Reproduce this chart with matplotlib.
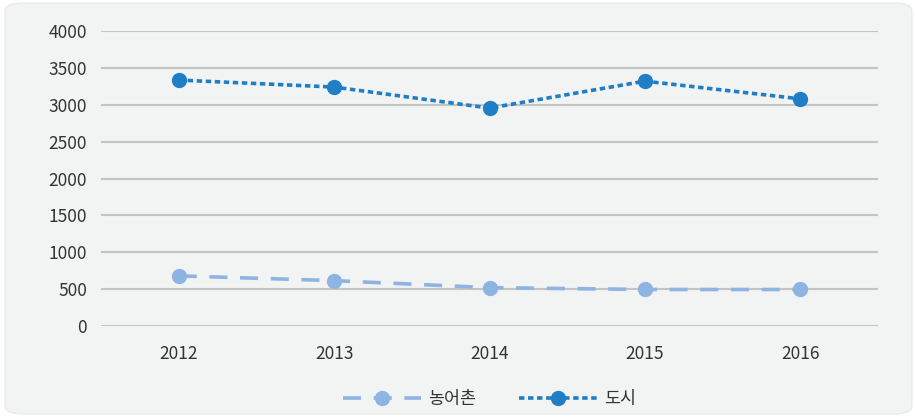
import matplotlib
matplotlib.use("Agg")
import matplotlib.pyplot as plt
from matplotlib.patches import FancyBboxPatch

plt.rcParams['font.family'] = ['Noto Sans CJK KR', 'DejaVu Sans']

years = ['2012', '2013', '2014', '2015', '2016']
rural = [680, 615, 520, 495, 495]
city = [3335, 3240, 2955, 3320, 3080]
yticks = [0, 500, 1000, 1500, 2000, 2500, 3000, 3500, 4000]

fig = plt.figure(figsize=(9.15, 4.17), dpi=100)
fig.patch.set_facecolor('white')
bg = FancyBboxPatch((5/915, 3/417), 907/915, 411/417,
                    boxstyle="round,pad=0,rounding_size=0.02",
                    transform=fig.transFigure, facecolor='#f2f3f3',
                    edgecolor='#e6e8e8', linewidth=0.8, zorder=-10)
fig.patches.append(bg)

ax = fig.add_axes([101/915, 1-326/417, 777/915, 295/417])
ax.set_facecolor('none')
x = list(range(len(years)))
ax.plot(x, rural, color='#8db4e2', linewidth=2.6, dashes=(5, 3.5),
        marker='o', markersize=10, label='농어촌', zorder=3)
ax.plot(x, city, color='#1f7ec5', linewidth=2.6, dashes=(1.5, 1.0),
        marker='o', markersize=10, label='도시', zorder=3)

ax.set_xlim(-0.5, 4.5)
ax.set_ylim(0, 4000)
ax.set_yticks(yticks)
ax.set_yticklabels([str(v) for v in yticks])
ax.set_xticks(x)
ax.set_xticklabels(years)
ax.grid(axis='y', color='#c4c4c4', linewidth=1.5)
ax.set_axisbelow(True)
for s in ax.spines.values():
    s.set_visible(False)
ax.tick_params(length=0, labelsize=12.5, colors='#333333')
ax.tick_params(axis='y', pad=10)
ax.tick_params(axis='x', pad=14)

leg = ax.legend(loc='center', bbox_to_anchor=(0.5, (399-326)/-295), ncol=2,
                frameon=False, fontsize=12.5, handlelength=4.5, columnspacing=2.5,
                handletextpad=0.4)
for t in leg.get_texts():
    t.set_color('#333333')

fig.savefig('out.png', dpi=100)
